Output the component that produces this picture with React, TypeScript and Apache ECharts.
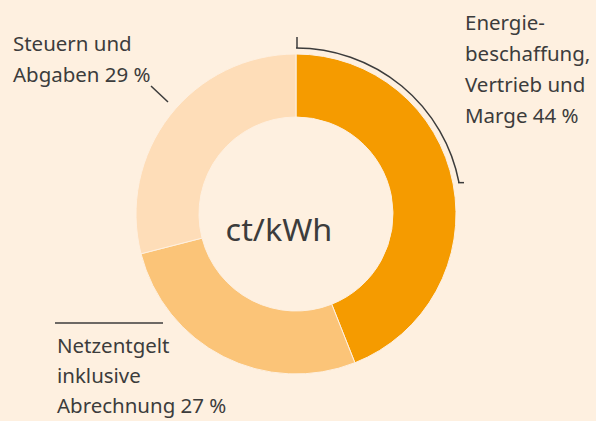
import React, { useEffect, useRef } from "react";
import * as echarts from "echarts";

const categories = [
  "Energiebeschaffung, Vertrieb und Marge",
  "Netzentgelt inklusive Abrechnung",
  "Steuern und Abgaben",
];
const shares = [44, 27, 29];
const sliceColors = ["#F59B00", "#FBC478", "#FEDDB8"];
const labelLines = [
  ["Energie-", "beschaffung,", "Vertrieb und", "Marge 44 %"],
  ["Netzentgelt", "inklusive", "Abrechnung 27 %"],
  ["Steuern und", "Abgaben 29 %"],
];
const centerLabel = "ct/kWh";

const BG = "#FEF0E0";
const INK = "#3C3C3C";
const FONT = '"Noto Sans", sans-serif';

export default function App() {
  const ref = useRef<HTMLDivElement>(null);
  useEffect(() => {
    if (!ref.current) return;
    const chart = echarts.init(ref.current, undefined, { renderer: "svg" });
    const cx = 296;
    const cy = 214;
    const arcR = 166;
    const endA = -0.19;
    const textStyle = (t: string[], x: number, y: number, lh: number) => ({
      type: "text",
      x,
      y,
      scaleX: 1.05,
      style: {
        text: t.join("\n"),
        fill: INK,
        font: `19.5px ${FONT}`,
        lineHeight: lh,
        textAlign: "left",
        textVerticalAlign: "top",
      },
    });
    chart.setOption({
      animation: false,
      backgroundColor: BG,
      series: [
        {
          type: "pie",
          center: [cx, cy],
          radius: [97, 160],
          startAngle: 90,
          clockwise: true,
          label: { show: false },
          labelLine: { show: false },
          emphasis: { disabled: true },
          silent: true,
          itemStyle: { borderColor: BG, borderWidth: 1 },
          data: categories.map((name, i) => ({
            name,
            value: shares[i],
            itemStyle: { color: sliceColors[i] },
          })),
        },
      ],
      graphic: [
        {
          type: "text",
          x: 279,
          y: 229,
          scaleX: 1.08,
          style: {
            text: centerLabel,
            fill: INK,
            font: `30px ${FONT}`,
            textAlign: "center",
            textVerticalAlign: "middle",
          },
        },
        textStyle(labelLines[0], 465, 7, 31),
        textStyle(labelLines[1], 57, 331, 30),
        textStyle(labelLines[2], 13, 28, 31),
        {
          type: "arc",
          shape: { cx, cy, r: arcR, startAngle: -Math.PI / 2, endAngle: endA, clockwise: true },
          style: { stroke: INK, lineWidth: 1.5, fill: "none" },
        },
        {
          type: "line",
          shape: { x1: 297, y1: 37, x2: 297, y2: 48 },
          style: { stroke: INK, lineWidth: 1.5 },
        },
        {
          type: "line",
          shape: {
            x1: cx + arcR * Math.cos(endA) - 1,
            y1: cy + arcR * Math.sin(endA),
            x2: cx + arcR * Math.cos(endA) + 5,
            y2: cy + arcR * Math.sin(endA),
          },
          style: { stroke: INK, lineWidth: 1.5 },
        },
        {
          type: "line",
          shape: { x1: 151, y1: 86, x2: 168, y2: 102 },
          style: { stroke: INK, lineWidth: 1.5 },
        },
        {
          type: "line",
          shape: { x1: 55, y1: 323, x2: 163, y2: 323 },
          style: { stroke: INK, lineWidth: 1.5 },
        },
      ],
    });
    return () => chart.dispose();
  }, []);
  return (
    <div
      ref={ref}
      style={{ position: "fixed", left: 0, top: 0, width: 596, height: 421 }}
    />
  );
}
